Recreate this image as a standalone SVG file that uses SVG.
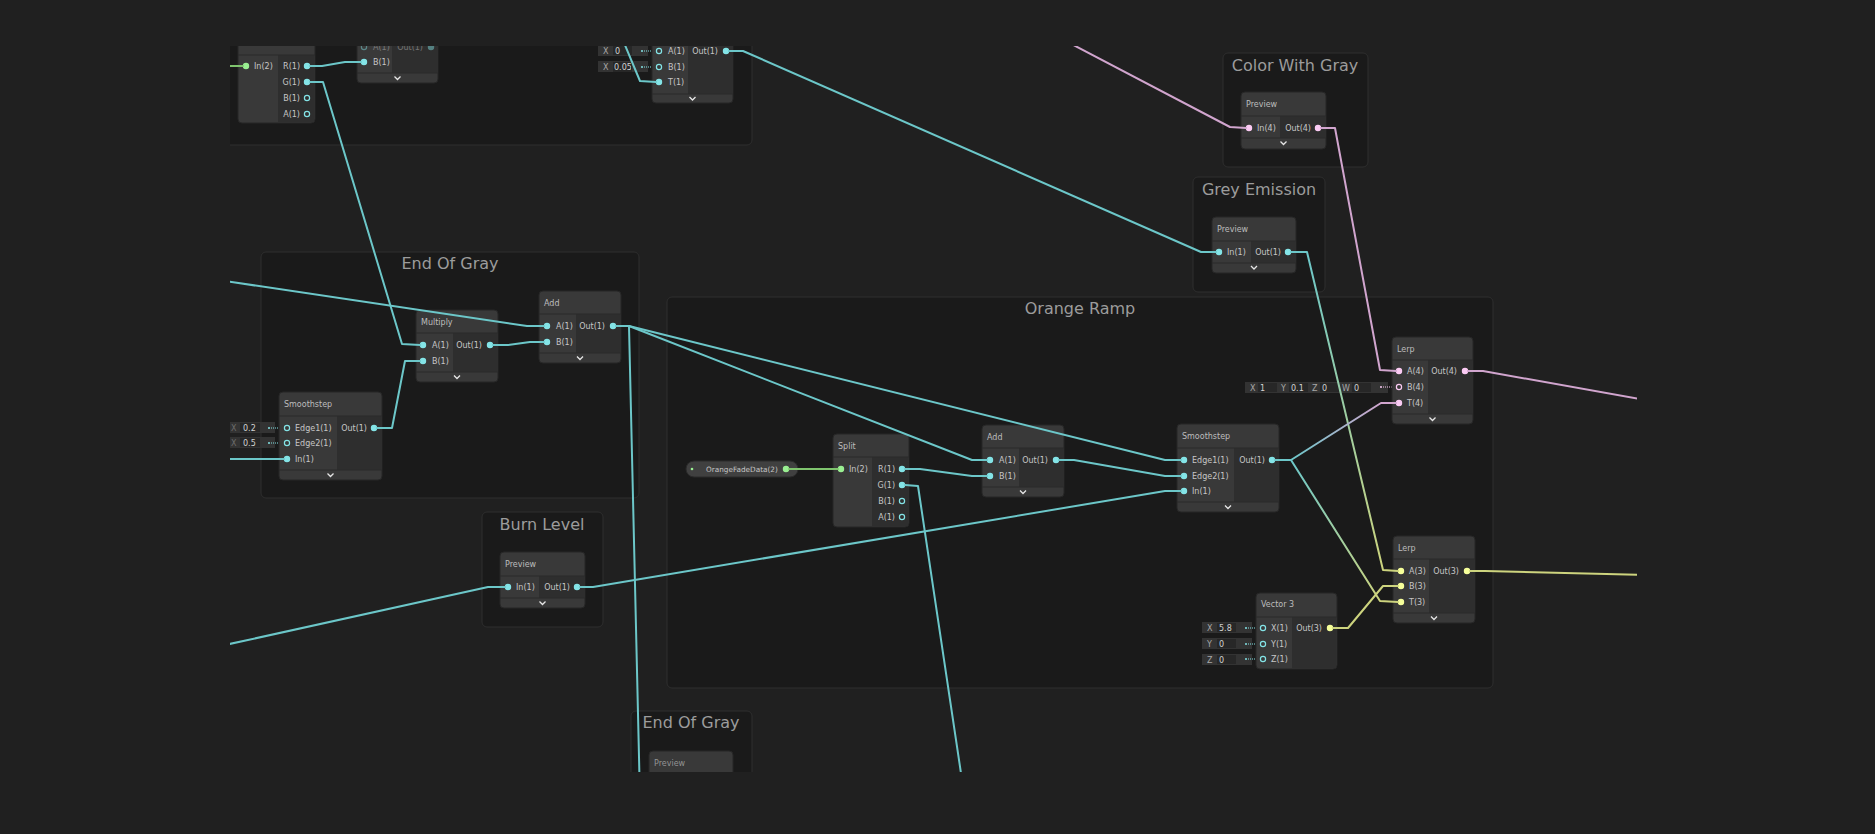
<svg xmlns="http://www.w3.org/2000/svg" width="1875" height="834" viewBox="0 0 1875 834">
<style>
.bg{fill:#202020}
.grp{fill:#1a1a1a;stroke:#2e2e2e;stroke-width:1}
.gt{font-family:"DejaVu Sans",sans-serif;font-size:16px;fill:#9c9c9c;text-anchor:middle}
.nb{fill:#393939;stroke:#272727;stroke-width:1}
.oc{fill:#2e2e2e}
.sep{stroke:#2b2b2b;stroke-width:1}
.ht{font-family:"DejaVu Sans",sans-serif;font-size:8px;fill:#bdbdbd}
.pl{font-family:"DejaVu Sans",sans-serif;font-size:8px;fill:#c6c6c6}
.pr{text-anchor:end}
.chev{fill:none;stroke:#e6e6e6;stroke-width:1.3}
.e{fill:none;stroke-width:2;stroke-linejoin:round;stroke-linecap:round}
.et{stroke:#6cc7c9}
.ep{stroke:#d1a5ce}
.ey{stroke:#cdd47e}
.eg{stroke:#7fc46e}
.pc{stroke-width:1.2}
.pt{stroke:#84e4e7}
.pp{stroke:#fbcbf4}
.py{stroke:#f6ff9a}
.pg{stroke:#9aef92}
.ft{fill:#84e4e7}
.fp{fill:#fbcbf4}
.fy{fill:#f6ff9a}
.fg{fill:#9aef92}
.hol{fill:none}
.fb{fill:#333333}
.fv{fill:#272727}
.fl{font-family:"DejaVu Sans",sans-serif;font-size:8px;fill:#a8a8a8}
.fvt{font-family:"DejaVu Sans",sans-serif;font-size:8px;fill:#d2d2d2}
.dot{stroke-dasharray:1 1;stroke-width:1}
.pill{fill:#404040;stroke:#2a2a2a}
</style>
<defs>
<clipPath id="vp"><rect x="230" y="46" width="1407" height="726"/></clipPath>
<clipPath id="fclip"><rect x="613" y="60" width="18" height="14"/></clipPath>
<linearGradient id="g8" gradientUnits="userSpaceOnUse" x1="1307" y1="252" x2="1383" y2="570"><stop offset="0" stop-color="#6cc7c9"/><stop offset="1" stop-color="#cdd47e"/></linearGradient>
<linearGradient id="g11" gradientUnits="userSpaceOnUse" x1="1291" y1="460" x2="1381" y2="403"><stop offset="0" stop-color="#6cc7c9"/><stop offset="1" stop-color="#d1a5ce"/></linearGradient>
<linearGradient id="g12" gradientUnits="userSpaceOnUse" x1="1291" y1="460" x2="1380" y2="601"><stop offset="0" stop-color="#6cc7c9"/><stop offset="1" stop-color="#cdd47e"/></linearGradient>
</defs>
<rect class="bg" x="0" y="0" width="1875" height="834"/>
<g clip-path="url(#vp)">
<g id="groups">
<g id="group-top"><rect class="grp" x="200" y="0" width="552" height="145" rx="5"/></g>
<g id="group-end-of-gray-1"><rect class="grp" x="261" y="252" width="378" height="246" rx="5"/><text class="gt" x="450" y="269">End Of Gray</text></g>
<g id="group-burn-level"><rect class="grp" x="482" y="512" width="121" height="115" rx="5"/><text class="gt" x="542" y="530">Burn Level</text></g>
<g id="group-end-of-gray-2"><rect class="grp" x="631" y="711" width="121" height="140" rx="5"/><text class="gt" x="691" y="728">End Of Gray</text></g>
<g id="group-orange-ramp"><rect class="grp" x="667" y="297" width="826" height="391" rx="5"/><text class="gt" x="1080" y="314">Orange Ramp</text></g>
<g id="group-color-with-gray"><rect class="grp" x="1223" y="53" width="145" height="114" rx="5"/><text class="gt" x="1295" y="71">Color With Gray</text></g>
<g id="group-grey-emission"><rect class="grp" x="1193" y="177" width="132" height="115" rx="5"/><text class="gt" x="1259" y="195">Grey Emission</text></g>
</g>

<g id="node-split-top">
<rect class="nb" x="238" y="10" width="77" height="113" rx="4"/>
<rect class="oc" x="278" y="55" width="36" height="67"/>
<line class="sep" x1="238" y1="55" x2="315" y2="55"/>
<circle class="pc pg fg" cx="246" cy="66" r="2.6"/><text class="pl" x="254" y="69">In(2)</text>
<circle class="pc pt ft" cx="307" cy="66" r="2.6"/><text class="pl pr" x="300" y="69">R(1)</text>
<circle class="pc pt ft" cx="307" cy="82" r="2.6"/><text class="pl pr" x="300" y="85">G(1)</text>
<circle class="pc pt hol" cx="307" cy="98" r="2.6"/><text class="pl pr" x="300" y="101">B(1)</text>
<circle class="pc pt hol" cx="307" cy="114" r="2.6"/><text class="pl pr" x="300" y="117">A(1)</text>
</g>

<g id="node-top-mid">
<rect class="nb" x="357" y="0" width="81" height="83" rx="4"/>
<rect class="oc" x="392" y="38" width="46" height="35"/>
<line class="sep" x1="357" y1="73" x2="438" y2="73"/>
<g opacity="0.45"><circle class="pc pt hol" cx="364" cy="47" r="2.6"/><text class="pl" x="373" y="50">A(1)</text><text class="pl pr" x="423" y="50">Out(1)</text><circle class="pc pt ft" cx="431" cy="47" r="2.6"/></g>
<circle class="pc pt ft" cx="364" cy="62" r="2.6"/><text class="pl" x="373" y="65">B(1)</text>
<path class="chev" d="M394.5 76.5 L397.5 79.5 L400.5 76.5"/>
</g>

<g id="node-top-right">
<rect class="fb" x="598" y="45" width="50" height="11"/><rect class="fv" x="613" y="45" width="19" height="10"/><text class="fl" x="603" y="54">X</text><text class="fvt" x="615" y="54">0</text>
<circle class="ft" cx="642" cy="51" r="1"/><line class="dot pt" x1="644" y1="51" x2="655" y2="51"/>
<rect class="fb" x="598" y="61" width="50" height="11"/><rect class="fv" x="613" y="62" width="19" height="10"/><text class="fl" x="603" y="70">X</text><text class="fvt" x="614" y="70" clip-path="url(#fclip)">0.05</text>
<circle class="ft" cx="642" cy="67" r="1"/><line class="dot pt" x1="644" y1="67" x2="655" y2="67"/>
<rect class="nb" x="652" y="0" width="81" height="103" rx="4"/>
<rect class="oc" x="688" y="40" width="45" height="54"/>
<line class="sep" x1="652" y1="94" x2="733" y2="94"/>
<circle class="pc pt hol" cx="659" cy="51" r="2.6"/><text class="pl" x="668" y="54">A(1)</text>
<circle class="pc pt hol" cx="659" cy="67" r="2.6"/><text class="pl" x="668" y="70">B(1)</text>
<circle class="pc pt ft" cx="659" cy="82" r="2.6"/><text class="pl" x="668" y="85">T(1)</text>
<circle class="pc pt ft" cx="726" cy="51" r="2.6"/><text class="pl pr" x="718" y="54">Out(1)</text>
<path class="chev" d="M689.5 97 L692.5 100 L695.5 97"/>
</g>

<g id="node-eog-smoothstep">
<rect class="fb" x="226" y="422" width="49" height="11"/><rect class="fv" x="240" y="423" width="20" height="9"/><text class="fl" x="231" y="431" fill-opacity="0.5">X</text><text class="fvt" x="243" y="431">0.2</text>
<circle class="ft" cx="269" cy="428" r="1"/><line class="dot pt" x1="271" y1="428" x2="283" y2="428"/>
<rect class="fb" x="226" y="437" width="49" height="11"/><rect class="fv" x="240" y="438" width="20" height="9"/><text class="fl" x="231" y="446" fill-opacity="0.5">X</text><text class="fvt" x="243" y="446">0.5</text>
<circle class="ft" cx="269" cy="443" r="1"/><line class="dot pt" x1="271" y1="443" x2="283" y2="443"/>
<rect class="nb" x="279" y="392" width="103" height="88" rx="4"/>
<rect class="oc" x="337" y="416" width="45" height="54"/>
<line class="sep" x1="279" y1="416" x2="382" y2="416"/><line class="sep" x1="279" y1="470" x2="382" y2="470"/>
<text class="ht" x="284" y="407">Smoothstep</text>
<circle class="pc pt hol" cx="287" cy="428" r="2.6"/><text class="pl" x="295" y="431">Edge1(1)</text>
<circle class="pc pt hol" cx="287" cy="443" r="2.6"/><text class="pl" x="295" y="446">Edge2(1)</text>
<circle class="pc pt ft" cx="287" cy="459" r="2.6"/><text class="pl" x="295" y="462">In(1)</text>
<circle class="pc pt ft" cx="374" cy="428" r="2.6"/><text class="pl pr" x="367" y="431">Out(1)</text>
<path class="chev" d="M327.5 473.5 L330.5 476.5 L333.5 473.5"/>
</g>

<g id="node-eog-multiply">
<rect class="nb" x="416" y="310" width="82" height="72" rx="4"/>
<rect class="oc" x="453" y="333" width="45" height="39"/>
<line class="sep" x1="416" y1="333" x2="498" y2="333"/><line class="sep" x1="416" y1="372" x2="498" y2="372"/>
<text class="ht" x="421" y="325">Multiply</text>
<circle class="pc pt ft" cx="423" cy="345" r="2.6"/><text class="pl" x="432" y="348">A(1)</text>
<circle class="pc pt ft" cx="423" cy="361" r="2.6"/><text class="pl" x="432" y="364">B(1)</text>
<circle class="pc pt ft" cx="490" cy="345" r="2.6"/><text class="pl pr" x="482" y="348">Out(1)</text>
<path class="chev" d="M454 375.5 L457 378.5 L460 375.5"/>
</g>

<g id="node-eog-add">
<rect class="nb" x="539" y="291" width="82" height="72" rx="4"/>
<rect class="oc" x="576" y="314" width="45" height="39"/>
<line class="sep" x1="539" y1="314" x2="621" y2="314"/><line class="sep" x1="539" y1="353" x2="621" y2="353"/>
<text class="ht" x="544" y="306">Add</text>
<circle class="pc pt ft" cx="547" cy="326" r="2.6"/><text class="pl" x="556" y="329">A(1)</text>
<circle class="pc pt ft" cx="547" cy="342" r="2.6"/><text class="pl" x="556" y="345">B(1)</text>
<circle class="pc pt ft" cx="613" cy="326" r="2.6"/><text class="pl pr" x="605" y="329">Out(1)</text>
<path class="chev" d="M577 356.5 L580 359.5 L583 356.5"/>
</g>

<g id="node-burn-preview">
<rect class="nb" x="500" y="552" width="85" height="56" rx="4"/>
<rect class="oc" x="539" y="576" width="46" height="22"/>
<line class="sep" x1="500" y1="576" x2="585" y2="576"/><line class="sep" x1="500" y1="598" x2="585" y2="598"/>
<text class="ht" x="505" y="567">Preview</text>
<circle class="pc pt ft" cx="508" cy="587" r="2.6"/><text class="pl" x="516" y="590">In(1)</text>
<circle class="pc pt ft" cx="577" cy="587" r="2.6"/><text class="pl pr" x="570" y="590">Out(1)</text>
<path class="chev" d="M539.5 601.5 L542.5 604.5 L545.5 601.5"/>
</g>

<g id="node-eog2-preview">
<rect class="nb" x="649" y="751" width="84" height="70" rx="4"/>
<line class="sep" x1="649" y1="775" x2="733" y2="775"/>
<text class="ht" x="654" y="766" fill-opacity="0.7">Preview</text>
</g>

<g id="node-orange-fade-data">
<rect class="pill" x="686" y="461" width="112" height="16" rx="8"/>
<circle class="fg" cx="692" cy="469" r="1.3"/>
<text class="pl" x="706" y="472" style="font-size:7.3px">OrangeFadeData(2)</text>
<circle class="pc pg fg" cx="786" cy="469" r="2.6"/>
</g>

<g id="node-split">
<rect class="nb" x="833" y="434" width="76" height="93" rx="4"/>
<rect class="oc" x="872" y="457" width="36" height="69"/>
<line class="sep" x1="833" y1="457" x2="909" y2="457"/>
<text class="ht" x="838" y="449">Split</text>
<circle class="pc pg fg" cx="841" cy="469" r="2.6"/><text class="pl" x="849" y="472">In(2)</text>
<circle class="pc pt ft" cx="902" cy="469" r="2.6"/><text class="pl pr" x="895" y="472">R(1)</text>
<circle class="pc pt ft" cx="902" cy="485" r="2.6"/><text class="pl pr" x="895" y="488">G(1)</text>
<circle class="pc pt hol" cx="902" cy="501" r="2.6"/><text class="pl pr" x="895" y="504">B(1)</text>
<circle class="pc pt hol" cx="902" cy="517" r="2.6"/><text class="pl pr" x="895" y="520">A(1)</text>
</g>

<g id="node-orange-add">
<rect class="nb" x="982" y="425" width="82" height="72" rx="4"/>
<rect class="oc" x="1019" y="448" width="45" height="39"/>
<line class="sep" x1="982" y1="448" x2="1064" y2="448"/><line class="sep" x1="982" y1="487" x2="1064" y2="487"/>
<text class="ht" x="987" y="440">Add</text>
<circle class="pc pt ft" cx="990" cy="460" r="2.6"/><text class="pl" x="999" y="463">A(1)</text>
<circle class="pc pt ft" cx="990" cy="476" r="2.6"/><text class="pl" x="999" y="479">B(1)</text>
<circle class="pc pt ft" cx="1056" cy="460" r="2.6"/><text class="pl pr" x="1048" y="463">Out(1)</text>
<path class="chev" d="M1020 490.5 L1023 493.5 L1026 490.5"/>
</g>

<g id="node-orange-smoothstep">
<rect class="nb" x="1177" y="424" width="102" height="88" rx="4"/>
<rect class="oc" x="1234" y="448" width="45" height="54"/>
<line class="sep" x1="1177" y1="448" x2="1279" y2="448"/><line class="sep" x1="1177" y1="502" x2="1279" y2="502"/>
<text class="ht" x="1182" y="439">Smoothstep</text>
<circle class="pc pt ft" cx="1184" cy="460" r="2.6"/><text class="pl" x="1192" y="463">Edge1(1)</text>
<circle class="pc pt ft" cx="1184" cy="476" r="2.6"/><text class="pl" x="1192" y="479">Edge2(1)</text>
<circle class="pc pt ft" cx="1184" cy="491" r="2.6"/><text class="pl" x="1192" y="494">In(1)</text>
<circle class="pc pt ft" cx="1272" cy="460" r="2.6"/><text class="pl pr" x="1265" y="463">Out(1)</text>
<path class="chev" d="M1225 505.5 L1228 508.5 L1231 505.5"/>
</g>

<g id="node-color-with-gray-preview">
<rect class="nb" x="1241" y="92" width="85" height="57" rx="4"/>
<rect class="oc" x="1280" y="116" width="46" height="22"/>
<line class="sep" x1="1241" y1="116" x2="1326" y2="116"/><line class="sep" x1="1241" y1="138" x2="1326" y2="138"/>
<text class="ht" x="1246" y="107">Preview</text>
<circle class="pc pp fp" cx="1249" cy="128" r="2.6"/><text class="pl" x="1257" y="131">In(4)</text>
<circle class="pc pp fp" cx="1318" cy="128" r="2.6"/><text class="pl pr" x="1311" y="131">Out(4)</text>
<path class="chev" d="M1280.5 141.5 L1283.5 144.5 L1286.5 141.5"/>
</g>

<g id="node-grey-emission-preview">
<rect class="nb" x="1212" y="217" width="84" height="56" rx="4"/>
<rect class="oc" x="1251" y="241" width="45" height="22"/>
<line class="sep" x1="1212" y1="241" x2="1296" y2="241"/><line class="sep" x1="1212" y1="263" x2="1296" y2="263"/>
<text class="ht" x="1217" y="232">Preview</text>
<circle class="pc pt ft" cx="1219" cy="252" r="2.6"/><text class="pl" x="1227" y="255">In(1)</text>
<circle class="pc pt ft" cx="1288" cy="252" r="2.6"/><text class="pl pr" x="1281" y="255">Out(1)</text>
<path class="chev" d="M1251 266 L1254 269 L1257 266"/>
</g>

<g id="node-lerp-4">
<rect class="fb" x="1245" y="382" width="143" height="11"/>
<rect class="fv" x="1258" y="383" width="19" height="9"/><rect class="fv" x="1289" y="383" width="19" height="9"/><rect class="fv" x="1320" y="383" width="19" height="9"/><rect class="fv" x="1352" y="383" width="19" height="9"/>
<text class="fl" x="1250" y="391">X</text><text class="fvt" x="1260" y="391">1</text>
<text class="fl" x="1281" y="391">Y</text><text class="fvt" x="1291" y="391">0.1</text>
<text class="fl" x="1312" y="391">Z</text><text class="fvt" x="1322" y="391">0</text>
<text class="fl" x="1342" y="391">W</text><text class="fvt" x="1354" y="391">0</text>
<circle class="fp" cx="1381" cy="387" r="1"/><line class="dot pp" x1="1383" y1="387" x2="1395" y2="387"/>
<rect class="nb" x="1392" y="337" width="81" height="87" rx="4"/>
<rect class="oc" x="1428" y="360" width="45" height="54"/>
<line class="sep" x1="1392" y1="360" x2="1473" y2="360"/><line class="sep" x1="1392" y1="414" x2="1473" y2="414"/>
<text class="ht" x="1397" y="352">Lerp</text>
<circle class="pc pp fp" cx="1399" cy="371" r="2.6"/><text class="pl" x="1407" y="374">A(4)</text>
<circle class="pc pp hol" cx="1399" cy="387" r="2.6"/><text class="pl" x="1407" y="390">B(4)</text>
<circle class="pc pp fp" cx="1399" cy="403" r="2.6"/><text class="pl" x="1407" y="406">T(4)</text>
<circle class="pc pp fp" cx="1465" cy="371" r="2.6"/><text class="pl pr" x="1457" y="374">Out(4)</text>
<path class="chev" d="M1429.5 417.5 L1432.5 420.5 L1435.5 417.5"/>
</g>

<g id="node-vector3">
<rect class="fb" x="1202" y="622" width="50" height="11"/><rect class="fv" x="1217" y="623" width="19" height="9"/><text class="fl" x="1207" y="631">X</text><text class="fvt" x="1219" y="631">5.8</text>
<circle class="ft" cx="1246" cy="628" r="1"/><line class="dot pt" x1="1248" y1="628" x2="1259" y2="628"/>
<rect class="fb" x="1202" y="638" width="50" height="11"/><rect class="fv" x="1217" y="639" width="19" height="9"/><text class="fl" x="1207" y="647">Y</text><text class="fvt" x="1219" y="647">0</text>
<circle class="ft" cx="1246" cy="644" r="1"/><line class="dot pt" x1="1248" y1="644" x2="1259" y2="644"/>
<rect class="fb" x="1202" y="654" width="50" height="11"/><rect class="fv" x="1217" y="655" width="19" height="9"/><text class="fl" x="1207" y="663">Z</text><text class="fvt" x="1219" y="663">0</text>
<circle class="ft" cx="1246" cy="659" r="1"/><line class="dot pt" x1="1248" y1="659" x2="1259" y2="659"/>
<rect class="nb" x="1256" y="593" width="81" height="76" rx="4"/>
<rect class="oc" x="1292" y="617" width="44" height="51"/>
<line class="sep" x1="1256" y1="617" x2="1337" y2="617"/>
<text class="ht" x="1261" y="607">Vector 3</text>
<circle class="pc pt hol" cx="1263" cy="628" r="2.6"/><text class="pl" x="1271" y="631">X(1)</text>
<circle class="pc pt hol" cx="1263" cy="644" r="2.6"/><text class="pl" x="1271" y="647">Y(1)</text>
<circle class="pc pt hol" cx="1263" cy="659" r="2.6"/><text class="pl" x="1271" y="662">Z(1)</text>
<circle class="pc py fy" cx="1330" cy="628" r="2.6"/><text class="pl pr" x="1322" y="631">Out(3)</text>
</g>

<g id="node-lerp-3">
<rect class="nb" x="1393" y="536" width="82" height="87" rx="4"/>
<rect class="oc" x="1429" y="559" width="46" height="54"/>
<line class="sep" x1="1393" y1="559" x2="1475" y2="559"/><line class="sep" x1="1393" y1="613" x2="1475" y2="613"/>
<text class="ht" x="1398" y="551">Lerp</text>
<circle class="pc py fy" cx="1401" cy="571" r="2.6"/><text class="pl" x="1409" y="574">A(3)</text>
<circle class="pc py fy" cx="1401" cy="586" r="2.6"/><text class="pl" x="1409" y="589">B(3)</text>
<circle class="pc py fy" cx="1401" cy="602" r="2.6"/><text class="pl" x="1409" y="605">T(3)</text>
<circle class="pc py fy" cx="1467" cy="571" r="2.6"/><text class="pl pr" x="1459" y="574">Out(3)</text>
<path class="chev" d="M1431 616.5 L1434 619.5 L1437 616.5"/>
</g>

<g id="connectors">
<polyline class="e eg" points="225,66 243,66"/>
<polyline class="e et" points="310,66 322,66 345,62 361,62"/>
<polyline class="e et" points="310,82 323,82 402,344 420,345"/>
<polyline class="e et" points="622,38 640,81 656,82"/>
<polyline class="e et" points="729,51 743,51 1201,252 1216,252"/>
<polyline class="e ep" points="1060,38 1230,127 1246,128"/>
<polyline class="e ep" points="1321,128 1335,128 1380,370 1396,371"/>
<polyline class="e" stroke="url(#g8)" points="1291,252 1307,252 1383,570 1398,571"/>
<polyline class="e ep" points="1468,371 1483,371 1645,400"/>
<polyline class="e ey" points="1470,571 1485,571 1645,575"/>
<polyline class="e" stroke="url(#g11)" points="1275,460 1291,460 1381,403 1396,403"/>
<polyline class="e" stroke="url(#g12)" points="1291,460 1380,601 1398,602"/>
<polyline class="e ey" points="1333,628 1348,628 1383,586 1398,586"/>
<polyline class="e et" points="616,326 629,326 972,460 987,460"/>
<polyline class="e et" points="629,326 1165,460 1181,460"/>
<polyline class="e et" points="629,326 640,800"/>
<polyline class="e et" points="1059,460 1074,460 1165,476 1181,476"/>
<polyline class="e et" points="905,469 920,469 972,476 987,476"/>
<polyline class="e et" points="905,485 918,486 965,800"/>
<polyline class="e et" points="580,587 593,587 1165,491 1181,491"/>
<polyline class="e et" points="225,645 488,587 505,587"/>
<polyline class="e et" points="225,281 527,326 544,326"/>
<polyline class="e et" points="493,345 508,345 530,342 544,342"/>
<polyline class="e et" points="377,428 392,428 405,361 420,361"/>
<polyline class="e et" points="225,459 284,459"/>
<polyline class="e eg" points="789,469 838,469"/>
</g>
</g>
</svg>
